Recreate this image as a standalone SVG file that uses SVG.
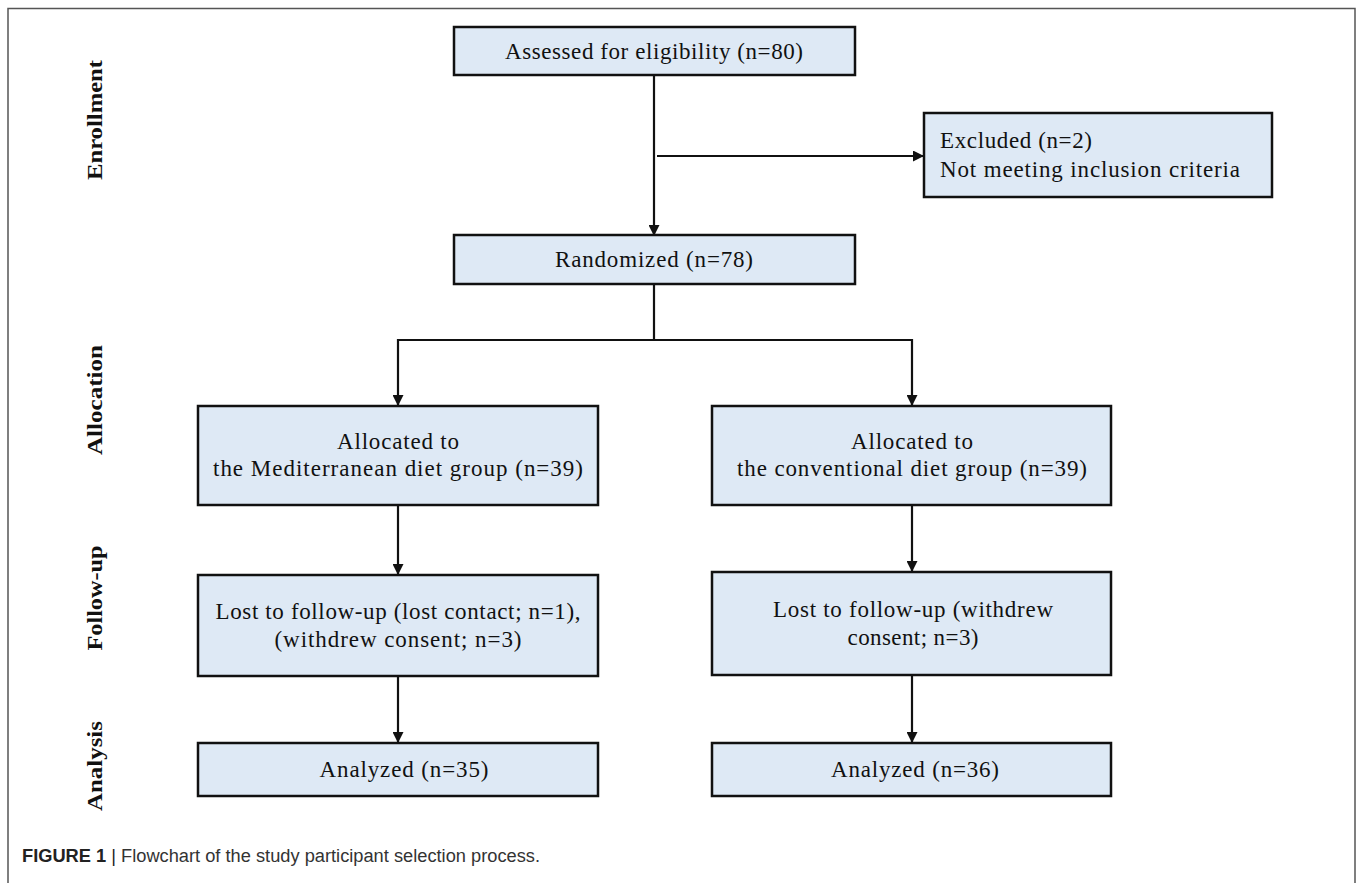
<svg xmlns="http://www.w3.org/2000/svg" width="1358" height="883" viewBox="0 0 1358 883">
<style>
.box{fill:#dee9f5;stroke:#111;stroke-width:2.5}
.t{font-family:"Liberation Serif",serif;font-size:23px;fill:#111;text-anchor:middle}
.tl{font-family:"Liberation Serif",serif;font-size:23px;fill:#111}
.side{font-family:"Liberation Serif",serif;font-size:22px;font-weight:bold;fill:#111;text-anchor:middle}
.c{stroke:#111;stroke-width:2.2;fill:none}
.cap{font-family:"Liberation Sans",sans-serif;font-size:18px;fill:#333}
</style>
<defs>
<marker id="ah" markerWidth="11" markerHeight="11" refX="10" refY="5.5" orient="auto" markerUnits="userSpaceOnUse">
<path d="M0,0 L11,5.5 L0,11 z" fill="#111"/>
</marker>
</defs>
<rect x="8" y="8.5" width="1347" height="890" fill="#fff" stroke="#555" stroke-width="1.5"/>
<g id="labels">
<text class="side" transform="translate(102,120) rotate(-90)" textLength="120" lengthAdjust="spacingAndGlyphs">Enrollment</text>
<text class="side" transform="translate(102,400) rotate(-90)" textLength="110" lengthAdjust="spacingAndGlyphs">Allocation</text>
<text class="side" transform="translate(102,598) rotate(-90)" textLength="105" lengthAdjust="spacingAndGlyphs">Follow-up</text>
<text class="side" transform="translate(102,766) rotate(-90)" textLength="90" lengthAdjust="spacingAndGlyphs">Analysis</text>
</g>
<g id="connectors">
<line class="c" x1="654" y1="75" x2="654" y2="235" marker-end="url(#ah)"/>
<line class="c" x1="657" y1="156" x2="923" y2="156" marker-end="url(#ah)"/>
<polyline class="c" points="654,285 654,340 398,340 398,405" marker-end="url(#ah)"/>
<polyline class="c" points="654,340 912,340 912,405" marker-end="url(#ah)"/>
<line class="c" x1="398" y1="505" x2="398" y2="574" marker-end="url(#ah)"/>
<line class="c" x1="912" y1="505" x2="912" y2="571" marker-end="url(#ah)"/>
<line class="c" x1="398" y1="676" x2="398" y2="742" marker-end="url(#ah)"/>
<line class="c" x1="912" y1="675" x2="912" y2="742" marker-end="url(#ah)"/>
</g>
<g id="assessed">
<rect class="box" x="454" y="27" width="401" height="48"/>
<text class="t" x="654" y="59" textLength="298" lengthAdjust="spacing">Assessed  for eligibility  (n=80)</text>
</g>
<g id="excluded">
<rect class="box" x="924" y="113" width="348" height="84"/>
<text class="tl" x="940" y="148" textLength="152" lengthAdjust="spacing">Excluded  (n=2)</text>
<text class="tl" x="940" y="177" textLength="300" lengthAdjust="spacing">Not meeting  inclusion  criteria</text>
</g>
<g id="randomized">
<rect class="box" x="454" y="235" width="401" height="49"/>
<text class="t" x="654" y="267" textLength="198" lengthAdjust="spacing">Randomized  (n=78)</text>
</g>
<g id="alloc-med">
<rect class="box" x="198" y="406" width="400" height="99"/>
<text class="t" x="398" y="449" textLength="122" lengthAdjust="spacing">Allocated  to</text>
<text class="t" x="398" y="476" textLength="370" lengthAdjust="spacing">the Mediterranean diet group (n=39)</text>
</g>
<g id="alloc-conv">
<rect class="box" x="712" y="406" width="399" height="99"/>
<text class="t" x="912" y="449" textLength="122" lengthAdjust="spacing">Allocated  to</text>
<text class="t" x="912" y="476" textLength="350" lengthAdjust="spacing">the conventional  diet  group  (n=39)</text>
</g>
<g id="follow-med">
<rect class="box" x="198" y="575" width="400" height="101"/>
<text class="t" x="398" y="619" textLength="365" lengthAdjust="spacing">Lost to follow-up  (lost  contact; n=1),</text>
<text class="t" x="398" y="647" textLength="247" lengthAdjust="spacing">(withdrew  consent; n=3)</text>
</g>
<g id="follow-conv">
<rect class="box" x="712" y="572" width="399" height="103"/>
<text class="t" x="913" y="617" textLength="280" lengthAdjust="spacing">Lost to follow-up  (withdrew</text>
<text class="t" x="913" y="645" textLength="131" lengthAdjust="spacing">consent; n=3)</text>
</g>
<g id="analyzed-med">
<rect class="box" x="198" y="743" width="400" height="53"/>
<text class="t" x="404" y="777" textLength="169" lengthAdjust="spacing">Analyzed  (n=35)</text>
</g>
<g id="analyzed-conv">
<rect class="box" x="712" y="743" width="399" height="53"/>
<text class="t" x="915" y="777" textLength="168" lengthAdjust="spacing">Analyzed  (n=36)</text>
</g>
<g id="caption">
<text class="cap" x="22" y="862" textLength="518" lengthAdjust="spacingAndGlyphs"><tspan font-weight="bold" fill="#222">FIGURE 1</tspan><tspan fill="#222"> | </tspan>Flowchart of the study participant selection process.</text>
</g>
</svg>
